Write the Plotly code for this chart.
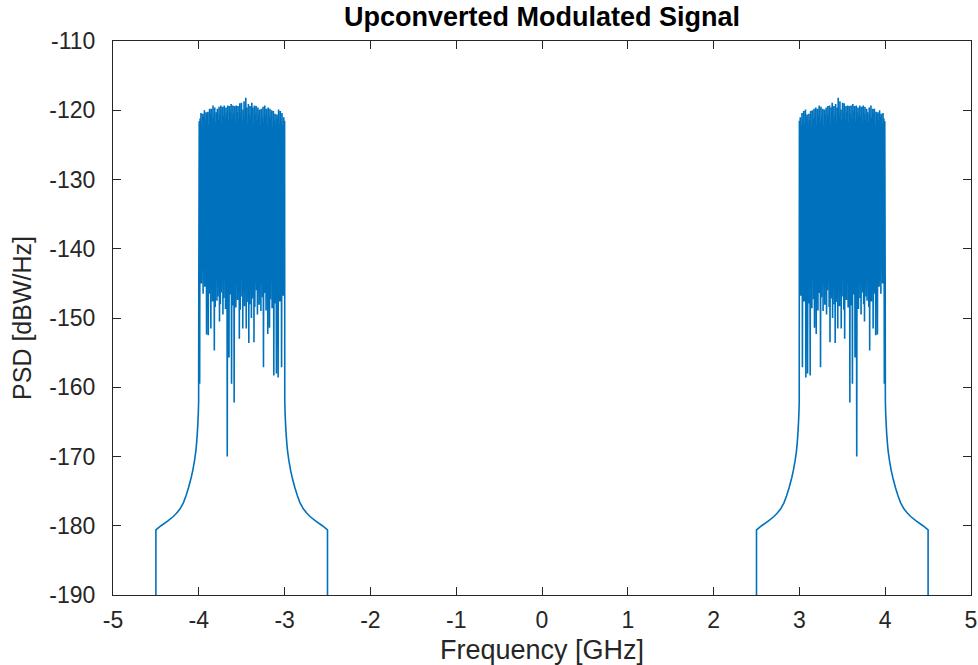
import numpy as np
import plotly.graph_objects as go

# ---------------- data ----------------
# occupied band of the positive-frequency image [GHz]; the negative image is its mirror
band_lo_ghz = 3.0
band_hi_ghz = 4.0

# roll-off skirt outside the band: distance from the band edge [GHz] and PSD [dBW/Hz]
skirt_offset_ghz = [0.50, 0.44, 0.36, 0.30, 0.26, 0.22, 0.18, 0.15, 0.12, 0.09,
                    0.07, 0.05, 0.034, 0.026, 0.018, 0.010, 0.005, 0.002]
skirt_psd_db = [-180.6, -180.0, -179.3, -178.7, -178.2, -177.6, -176.7, -175.7, -174.5, -173.1,
                -172.0, -170.6, -169.2, -168.1, -166.8, -165.0, -163.5, -162.0]

# value beyond the edge of the skirt (falls below the bottom of the axis)
outside_psd_db = -200.0

# in-band PSD: local maxima and local minima, alternating, from 3 GHz to 4 GHz
peak_psd_db = [
    -121.5, -121.0, -122.3, -120.4, -121.6, -120.1, -122.0, -119.9, -121.2, -120.6,
    -122.1, -120.5, -121.4, -120.1, -122.5, -120.0, -121.3, -119.8, -120.9, -119.6,
    -122.0, -119.8, -120.8, -119.3, -121.7, -119.5, -121.0, -119.8, -122.2, -119.9,
    -120.6, -119.6, -121.5, -119.4, -120.7, -119.3, -122.0, -119.6, -118.9, -121.1,
    -119.4, -120.6, -119.1, -121.8, -119.6, -118.2, -120.9, -118.7, -119.9, -121.5,
    -118.9, -120.4, -119.0, -121.2, -119.4, -120.3, -119.3, -121.9, -119.4, -120.5,
    -119.3, -121.3, -119.1, -120.2, -119.4, -121.6, -119.3, -120.4, -119.6, -121.0,
    -119.3, -120.8, -119.5, -122.0, -119.3, -120.6, -119.5, -121.4, -119.8, -120.3,
    -121.7, -119.6, -120.9, -119.3, -121.2, -119.8, -120.5, -119.8, -122.1, -120.2,
    -120.6, -120.3, -121.5, -120.0, -121.0, -120.5, -122.0, -120.4, -121.2, -121.6,
]
trough_psd_db = [
    -144.5, -146.8, -141.2, -157.1, -145.9, -147.6, -143.0, -158.6, -146.2, -158.0,
    -144.1, -147.9, -158.3, -145.0, -148.6, -142.7, -147.3, -151.4, -145.8, -152.3,
    -143.9, -148.9, -146.4, -144.2, -157.1, -147.0, -142.6, -149.0, -145.3, -148.1,
    -143.7, -149.5, -146.0, -144.8, -148.4, -153.5, -142.9, -147.2, -150.0, -145.6,
    -148.0, -153.6, -144.4, -147.7, -151.5, -143.5, -148.3, -145.2, -151.5, -146.9,
    -143.1, -148.8, -153.0, -145.7, -147.4, -142.8, -148.5, -146.1, -162.2, -144.9,
    -148.2, -159.5, -146.6, -143.4, -155.7, -147.8, -170.0, -145.4, -148.7, -144.0,
    -147.1, -149.5, -143.6, -146.3, -148.0, -150.5, -144.7, -146.9, -147.5, -143.2,
    -148.4, -154.7, -145.1, -147.6, -143.8, -151.5, -146.5, -144.3, -152.5, -145.9,
    -152.4, -143.0, -145.5, -144.6, -146.5, -142.4, -145.0, -144.1, -159.5, -145.3,
]

x_tick_vals = [-5, -4, -3, -2, -1, 0, 1, 2, 3, 4, 5]
x_tick_text = ["-5", "-4", "-3", "-2", "-1", "0", "1", "2", "3", "4", "5"]
y_tick_vals = [-190, -180, -170, -160, -150, -140, -130, -120, -110]
y_tick_text = ["-190", "-180", "-170", "-160", "-150", "-140", "-130", "-120", "-110"]

title_text = "Upconverted Modulated Signal"
x_label = "Frequency [GHz]"
y_label = "PSD [dBW/Hz]"

# ---------------- build the series ----------------
inband_db = []
for p, t in zip(peak_psd_db, trough_psd_db):
    inband_db += [p, t]
inband_f = list(np.linspace(band_lo_ghz, band_hi_ghz, len(inband_db)))

pos_f = ([band_lo_ghz - skirt_offset_ghz[0]]
         + [band_lo_ghz - o for o in skirt_offset_ghz]
         + inband_f
         + [band_hi_ghz + o for o in skirt_offset_ghz[::-1]]
         + [band_hi_ghz + skirt_offset_ghz[0]])
pos_db = ([outside_psd_db] + skirt_psd_db + inband_db + skirt_psd_db[::-1] + [outside_psd_db])

neg_f = [-f for f in pos_f[::-1]]
neg_db = pos_db[::-1]

freq = neg_f + [None] + pos_f
psd = neg_db + [None] + pos_db

# ---------------- figure ----------------
axis_color = "#262626"
font_family = "Liberation Sans, Arial, Helvetica, sans-serif"

fig = go.Figure()
fig.add_trace(go.Scatter(
    x=freq, y=psd, mode="lines",
    line=dict(color="#0072BD", width=1.6, simplify=False),
    connectgaps=False, hoverinfo="x+y", showlegend=False,
))

fig.update_layout(
    width=978, height=665,
    margin=dict(l=113, r=7, t=41, b=70, autoexpand=False),
    paper_bgcolor="white", plot_bgcolor="white",
    font=dict(family=font_family, color=axis_color, size=23),
    title=dict(text="<b>" + title_text + "</b>", x=0.5, xref="paper",
               y=1 - 17 / 665, yref="container", yanchor="middle", xanchor="center",
               font=dict(size=27, color="black", family=font_family)),
)
fig.update_xaxes(
    range=[-5, 5], tickmode="array", tickvals=x_tick_vals, ticktext=x_tick_text,
    ticks="inside", ticklen=8, tickwidth=1, tickcolor=axis_color,
    showline=True, linecolor=axis_color, linewidth=1, mirror="ticks",
    showgrid=False, zeroline=False, ticklabelstandoff=4,
    tickfont=dict(size=23, color=axis_color),
    title=dict(text=x_label, standoff=9, font=dict(size=27, color=axis_color)),
)
fig.update_yaxes(
    range=[-190, -110], tickmode="array", tickvals=y_tick_vals, ticktext=y_tick_text,
    ticks="inside", ticklen=8, tickwidth=1, tickcolor=axis_color,
    showline=True, linecolor=axis_color, linewidth=1, mirror="ticks",
    showgrid=False, zeroline=False, ticklabelstandoff=12,
    tickfont=dict(size=23, color=axis_color),
    title=dict(text=y_label, standoff=10, font=dict(size=25, color=axis_color)),
)

fig.write_html("out.html")
